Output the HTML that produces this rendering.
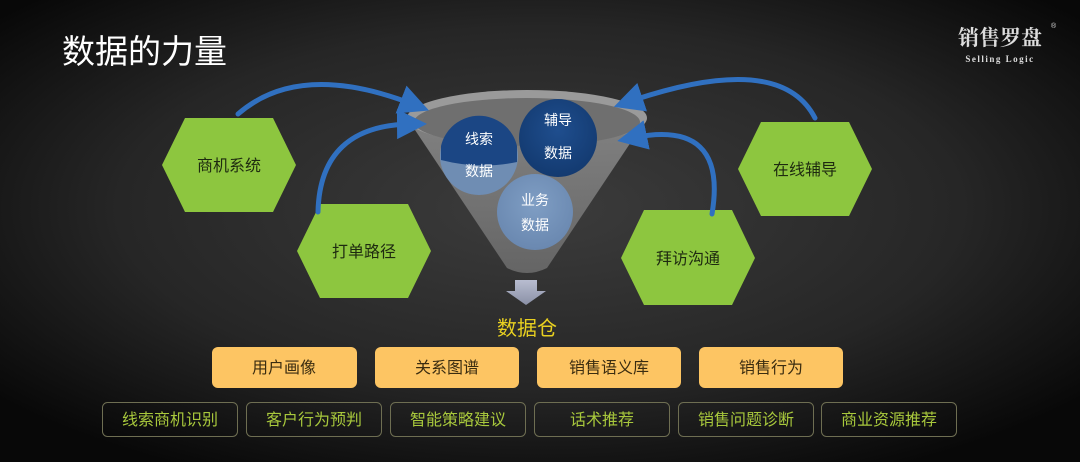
<!DOCTYPE html>
<html><head><meta charset="utf-8"><style>
html,body{margin:0;padding:0;width:1080px;height:462px;overflow:hidden;background:#000}
</style></head><body>
<svg width="1080" height="462" viewBox="0 0 1080 462" xmlns="http://www.w3.org/2000/svg" font-family="Liberation Sans, Noto Sans CJK SC, sans-serif">
<defs>
<radialGradient id="bg" cx="50%" cy="45%" r="65%">
<stop offset="0" stop-color="#3c3c3c"/><stop offset="0.6" stop-color="#262626"/><stop offset="1" stop-color="#080808"/>
</radialGradient>
<linearGradient id="fun" x1="0" y1="0" x2="0" y2="1">
<stop offset="0" stop-color="#8a8a8a"/><stop offset="1" stop-color="#6a6a6a"/>
</linearGradient>
<radialGradient id="c1" cx="50%" cy="40%" r="60%"><stop offset="0" stop-color="#1f4e8e"/><stop offset="1" stop-color="#133a70"/></radialGradient>
<radialGradient id="c2" cx="50%" cy="40%" r="60%"><stop offset="0" stop-color="#7f9ec4"/><stop offset="1" stop-color="#6a88b0"/></radialGradient>
<linearGradient id="arw" x1="0" y1="0" x2="0" y2="1"><stop offset="0" stop-color="#b8bdd0"/><stop offset="1" stop-color="#8a90a6"/></linearGradient>
<marker id="ah" markerWidth="6" markerHeight="6" refX="3" refY="3" orient="auto" markerUnits="strokeWidth"><path d="M0,0 L6,3 L0,6 z" fill="#3070c0"/></marker>
</defs>
<rect width="1080" height="462" fill="url(#bg)"/>
<text x="62" y="63" font-size="33" fill="#fff">数据的力量</text>
<text x="1000" y="45" font-size="21" fill="#ddd" text-anchor="middle" font-weight="bold" font-family="Noto Serif CJK SC, serif">销售罗盘</text>
<text x="1051" y="28" font-size="7" fill="#ddd">®</text>
<text x="1000" y="62" font-size="9" fill="#ddd" text-anchor="middle" font-weight="bold" font-family="Liberation Serif, serif" letter-spacing="1.5">Selling Logic</text>

<!-- funnel -->
<path d="M407,118 L507,268 Q527,278 547,268 L647,118 Z" fill="url(#fun)" opacity="0.9"/>
<ellipse cx="527" cy="118" rx="120" ry="28" fill="#9a9a9a"/>
<ellipse cx="527" cy="122" rx="113" ry="24" fill="#6f6f6f"/>
<circle cx="479" cy="156" r="39" fill="#6f8db3"/>
<path d="M441,146 A39,39 0 0 1 517,146 L517,162 Q480,170 441,160 Z" fill="#1b4684"/>
<circle cx="558" cy="138" r="39" fill="url(#c1)"/>
<circle cx="535" cy="212" r="38" fill="url(#c2)"/>
<g fill="#fff" font-size="14" text-anchor="middle">
<text x="479" y="144">线索</text><text x="479" y="176">数据</text>
<text x="558" y="125">辅导</text><text x="558" y="158">数据</text>
<text x="535" y="205">业务</text><text x="535" y="230">数据</text>
</g>
<path d="M515,280 H537 V291 H546 L526,305 L506,291 H515 Z" fill="url(#arw)"/>

<!-- hexagons -->
<g fill="#8dc63f">
<polygon points="185,118 273,118 296,165 273,212 185,212 162,165"/>
<polygon points="320,204 408,204 431,251 408,298 320,298 297,251"/>
<polygon points="761,122 849,122 872,169 849,216 761,216 738,169"/>
<polygon points="644,210 732,210 755,258 732,305 644,305 621,258"/>
</g>
<g fill="#1e2a10" font-size="16" text-anchor="middle">
<text x="229" y="171">商机系统</text><text x="364" y="257">打单路径</text>
<text x="805" y="175">在线辅导</text><text x="688" y="264">拜访沟通</text>
</g>

<!-- arrows -->
<g fill="none" stroke="#3070c0" stroke-width="5" stroke-linecap="round">
<path d="M238,114 Q300,60 415,105" marker-end="url(#ah)"/>
<path d="M318,212 Q320,125 412,124" marker-end="url(#ah)"/>
<path d="M815,118 Q780,50 628,102" marker-end="url(#ah)"/>
<path d="M712,214 Q728,118 632,138" marker-end="url(#ah)"/>
</g>

<text x="527" y="335" font-size="20" fill="#e8d020" text-anchor="middle">数据仓</text>

<g fill="#fdc563">
<rect x="212" y="347" width="145" height="41" rx="6"/>
<rect x="375" y="347" width="144" height="41" rx="6"/>
<rect x="537" y="347" width="144" height="41" rx="6"/>
<rect x="699" y="347" width="144" height="41" rx="6"/>
</g>
<g fill="#3a2c10" font-size="16" text-anchor="middle">
<text x="284" y="373">用户画像</text><text x="447" y="373">关系图谱</text>
<text x="609" y="373">销售语义库</text><text x="771" y="373">销售行为</text>
</g>
<g fill="none" stroke="#6e6e52" stroke-width="1">
<rect x="102.5" y="402.5" width="135" height="34" rx="5"/>
<rect x="246.5" y="402.5" width="135" height="34" rx="5"/>
<rect x="390.5" y="402.5" width="135" height="34" rx="5"/>
<rect x="534.5" y="402.5" width="135" height="34" rx="5"/>
<rect x="678.5" y="402.5" width="135" height="34" rx="5"/>
<rect x="821.5" y="402.5" width="135" height="34" rx="5"/>
</g>
<g fill="#a8c83c" font-size="16" text-anchor="middle">
<text x="170" y="425">线索商机识别</text><text x="314" y="425">客户行为预判</text>
<text x="458" y="425">智能策略建议</text><text x="602" y="425">话术推荐</text>
<text x="746" y="425">销售问题诊断</text><text x="889" y="425">商业资源推荐</text>
</g>
</svg>
</body></html>
